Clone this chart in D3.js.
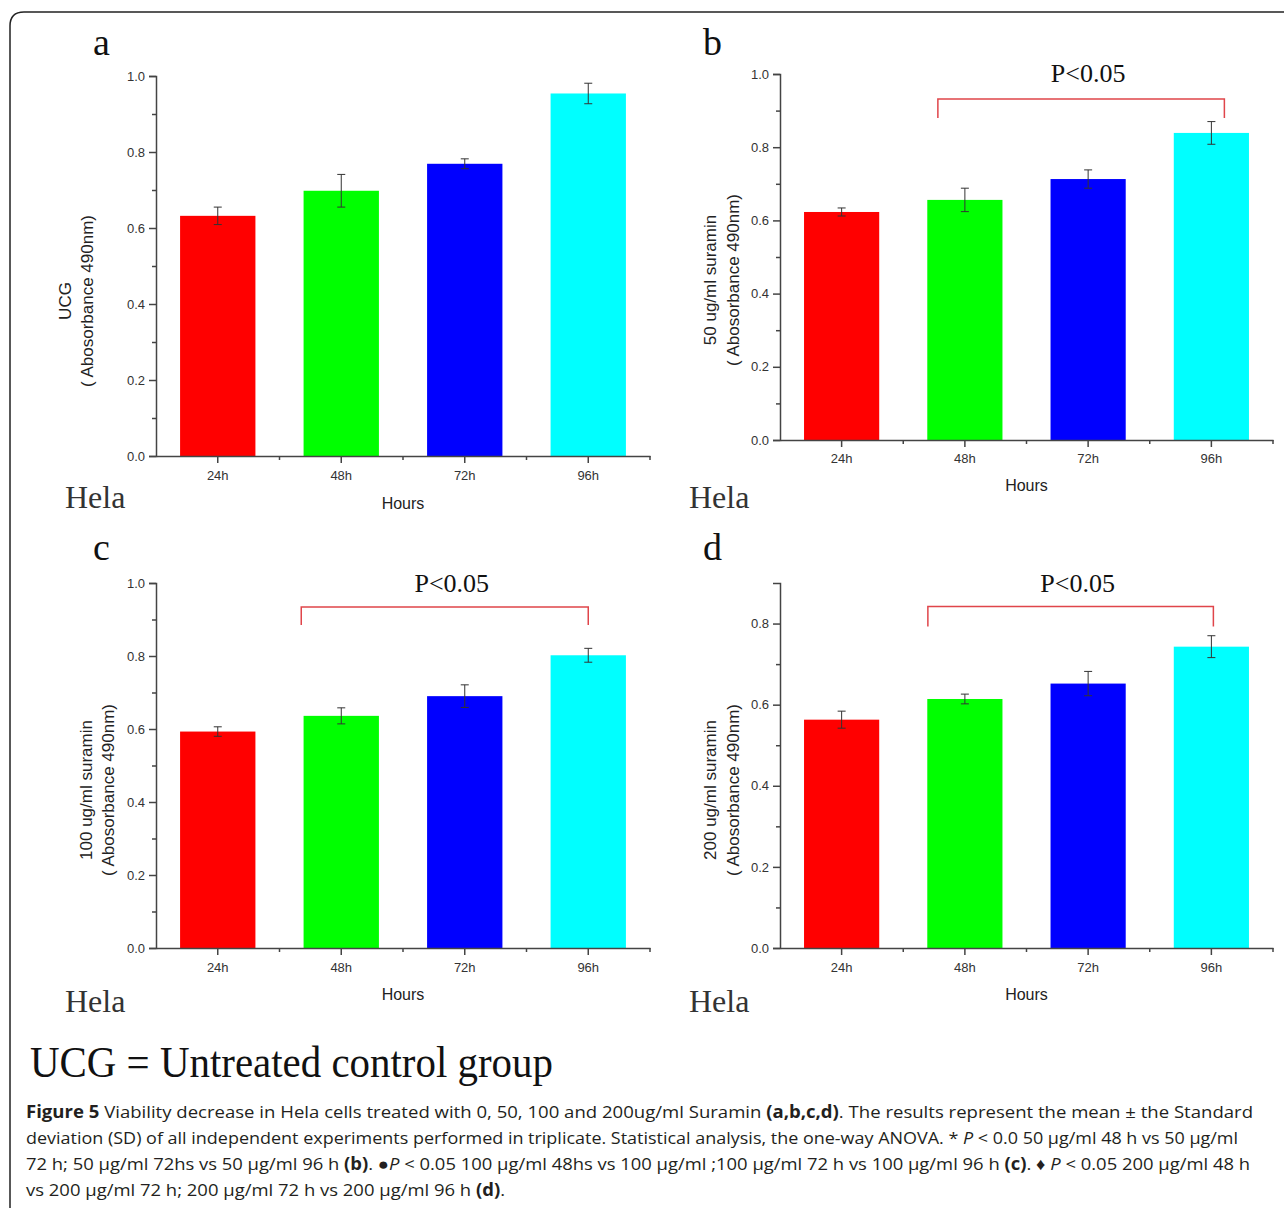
<!DOCTYPE html>
<html lang="en">
<head>
<meta charset="utf-8">
<title>Figure 5 - Hela viability</title>
<script src="https://d3js.org/d3.v7.min.js"></script>
<style>
  body { margin: 0; background: #fff; }
  svg text { font-family: "Liberation Sans", Arial, sans-serif; }
  .serif { font-family: "Liberation Serif", "Times New Roman", serif !important; }
</style>
</head>
<body>
<script>
// categories and colours
var hours = ["24h", "48h", "72h", "96h"];
var barColors = ["#ff0000", "#00ff00", "#0000ff", "#00ffff"];

// values (mean absorbance, SD)
var ucgMeans = [0.632, 0.698, 0.769, 0.954];
var ucgSD = [0.023, 0.043, 0.013, 0.027];
var sur50Means = [0.623, 0.656, 0.713, 0.839];
var sur50SD = [0.011, 0.032, 0.025, 0.031];
var sur100Means = [0.593, 0.636, 0.690, 0.802];
var sur100SD = [0.013, 0.022, 0.031, 0.019];
var sur200Means = [0.563, 0.614, 0.652, 0.743];
var sur200SD = [0.021, 0.012, 0.030, 0.027];

var yTicksMajor = [0, 0.2, 0.4, 0.6, 0.8, 1.0];
var yTicksMinor = [0.1, 0.3, 0.5, 0.7, 0.9];

var w = 1284, h = 1208;

var svg = d3.select("body").append("svg")
    .attr("width", w)
    .attr("height", h);

svg.append("rect").attr("width", w).attr("height", h).attr("fill", "#fff");

// outer frame (right and bottom sides run off the picture)
svg.append("path")
    .attr("d", "M10," + (h + 5) + " L10,26 Q10,12 24,12 L" + (w + 5) + ",12")
    .attr("fill", "none")
    .attr("stroke", "#222")
    .attr("stroke-width", 1.5);

var panels = [
  { letter: "a", ax: 156, xEnd: 650, yBase: 456, yTop: 76, yMax: 1.0,
    label: "UCG", means: ucgMeans, sd: ucgSD, letterX: 93,
    labX: [71, 93], labY: 301, tickY: 480, hoursY: 509, helaY: 508, letterY: 55 },
  { letter: "b", ax: 780, xEnd: 1273, yBase: 440, yTop: 74, yMax: 1.0,
    label: "50 ug/ml suramin", means: sur50Means, sd: sur50SD, letterX: 703,
    labX: [716, 739], labY: 280, tickY: 463, hoursY: 491, helaY: 508, letterY: 55,
    bracket: { top: 0.932, leg: 0.88, dl: -27, dr: 13, text: 0.977 } },
  { letter: "c", ax: 156, xEnd: 650, yBase: 948, yTop: 583, yMax: 1.0,
    label: "100 ug/ml suramin", means: sur100Means, sd: sur100SD, letterX: 93,
    labX: [92, 114], labY: 790, tickY: 972, hoursY: 1000, helaY: 1012, letterY: 560,
    bracket: { top: 0.934, leg: 0.885, dl: -40, dr: 0, text: 0.975 } },
  { letter: "d", ax: 780, xEnd: 1273, yBase: 948, yTop: 583, yMax: 0.9,
    label: "200 ug/ml suramin", means: sur200Means, sd: sur200SD, letterX: 703,
    labX: [716, 739], labY: 790, tickY: 972, hoursY: 1000, helaY: 1012, letterY: 560,
    bracket: { top: 0.842, leg: 0.793, dl: -37, dr: 2, text: 0.879 } }
];

panels.forEach(function(p) {
  var g = svg.append("g");

  var x = d3.scaleBand()
      .domain(hours)
      .range([p.ax, p.xEnd])
      .paddingInner(0.39)
      .paddingOuter(0.195);

  var y = d3.scaleLinear()
      .domain([0, p.yMax])
      .range([p.yBase, p.yTop]);

  // bars
  g.selectAll("rect.bar")
    .data(p.means)
    .enter().append("rect")
      .attr("class", "bar")
      .attr("x", function(d, i) { return x(hours[i]); })
      .attr("width", x.bandwidth())
      .attr("y", function(d) { return y(d); })
      .attr("height", function(d) { return y(0) - y(d); })
      .attr("fill", function(d, i) { return barColors[i]; });

  // error bars
  var eb = g.selectAll("g.err")
    .data(p.means)
    .enter().append("g")
      .attr("class", "err")
      .attr("stroke", "#333")
      .attr("stroke-width", 1);
  eb.append("line")
      .attr("x1", function(d, i) { return x(hours[i]) + x.bandwidth() / 2; })
      .attr("x2", function(d, i) { return x(hours[i]) + x.bandwidth() / 2; })
      .attr("y1", function(d, i) { return y(d + p.sd[i]); })
      .attr("y2", function(d, i) { return y(d - p.sd[i]); });
  [1, -1].forEach(function(s) {
    eb.append("line")
      .attr("x1", function(d, i) { return x(hours[i]) + x.bandwidth() / 2 - 4; })
      .attr("x2", function(d, i) { return x(hours[i]) + x.bandwidth() / 2 + 4; })
      .attr("y1", function(d, i) { return y(d + s * p.sd[i]); })
      .attr("y2", function(d, i) { return y(d + s * p.sd[i]); });
  });

  // y axis
  var yMajor = yTicksMajor.filter(function(t) { return t <= p.yMax + 1e-9; });
  var yMinor = yTicksMinor.filter(function(t) { return t < p.yMax - 1e-9; });
  var yAxis = g.append("g")
      .attr("transform", "translate(" + p.ax + ",0)")
      .call(d3.axisLeft(y).tickValues(yMajor).tickSize(7).tickPadding(4)
            .tickFormat(d3.format(".1f")));
  yAxis.select(".domain").attr("stroke", "#444").attr("stroke-width", 1.5);
  yAxis.selectAll(".tick line").attr("stroke", "#444").attr("stroke-width", 1.5);
  yAxis.selectAll(".tick text").attr("font-size", 13).attr("fill", "#333");
  g.append("g")
      .attr("transform", "translate(" + p.ax + ",0)")
      .call(d3.axisLeft(y).tickValues(yMinor).tickSize(4).tickFormat(""))
      .call(function(s) { s.select(".domain").remove(); })
      .selectAll(".tick line").attr("stroke", "#444").attr("stroke-width", 1.5);

  // x axis
  var xAxis = g.append("g")
      .attr("transform", "translate(0," + p.yBase + ")")
      .call(d3.axisBottom(x).tickSize(7).tickPadding(4).tickSizeOuter(0));
  xAxis.select(".domain").attr("stroke", "#444").attr("stroke-width", 1.5);
  xAxis.selectAll(".tick line").attr("stroke", "#444").attr("stroke-width", 1.5);
  xAxis.selectAll(".tick text").remove();
  // minor ticks at category boundaries
  g.selectAll("line.xminor")
    .data(hours)
    .enter().append("line")
      .attr("class", "xminor")
      .attr("x1", function(d) { return x(d) + x.bandwidth() + x.step() * x.paddingInner() / 2; })
      .attr("x2", function(d) { return x(d) + x.bandwidth() + x.step() * x.paddingInner() / 2; })
      .attr("y1", p.yBase)
      .attr("y2", p.yBase + 4)
      .attr("stroke", "#444")
      .attr("stroke-width", 1.5);
  g.selectAll("text.xlab")
    .data(hours)
    .enter().append("text")
      .attr("class", "xlab")
      .attr("x", function(d) { return x(d) + x.bandwidth() / 2; })
      .attr("y", p.tickY)
      .attr("text-anchor", "middle")
      .attr("font-size", 13)
      .attr("fill", "#333")
      .text(function(d) { return d; });

  // axis titles
  g.append("text")
      .attr("x", (p.ax + p.xEnd) / 2)
      .attr("y", p.hoursY)
      .attr("text-anchor", "middle")
      .attr("font-size", 16)
      .attr("fill", "#222")
      .text("Hours");

  [p.label, "( Abosorbance 490nm)"].forEach(function(t, i) {
    g.append("text")
      .attr("transform", "translate(" + p.labX[i] + "," + p.labY + ") rotate(-90)")
      .attr("text-anchor", "middle")
      .attr("font-size", 17)
      .attr("fill", "#222")
      .text(t);
  });

  // panel letter and cell line name
  g.append("text")
      .attr("class", "serif")
      .attr("x", p.letterX)
      .attr("y", p.letterY)
      .attr("font-size", 38)
      .attr("fill", "#111")
      .text(p.letter);
  g.append("text")
      .attr("class", "serif")
      .attr("x", p.ax - 91)
      .attr("y", p.helaY)
      .attr("font-size", 32)
      .attr("fill", "#333")
      .text("Hela");

  // significance bracket
  if (p.bracket) {
    var b = p.bracket;
    var xl = x("48h") + x.bandwidth() / 2 + b.dl;
    var xr = x("96h") + x.bandwidth() / 2 + b.dr;
    g.append("path")
      .attr("d", "M" + xl + "," + y(b.leg) + " L" + xl + "," + y(b.top) +
                 " L" + xr + "," + y(b.top) + " L" + xr + "," + y(b.leg))
      .attr("fill", "none")
      .attr("stroke", "#e0454a")
      .attr("stroke-width", 1.5);
    g.append("text")
      .attr("class", "serif")
      .attr("x", (xl + xr) / 2 + 7)
      .attr("y", y(b.text))
      .attr("text-anchor", "middle")
      .attr("font-size", 26)
      .attr("fill", "#111")
      .text("P<0.05");
  }
});

// footnote
svg.append("text")
    .attr("class", "serif")
    .attr("x", 30)
    .attr("y", 1077)
    .attr("font-size", 44)
    .attr("fill", "#111")
    .attr("textLength", 523)
    .attr("lengthAdjust", "spacingAndGlyphs")
    .text("UCG = Untreated control group");

// caption
var capLines = [
  [["Figure 5", "b"], [" Viability decrease in Hela cells treated with 0, 50, 100 and 200ug/ml Suramin ", ""], ["(a,b,c,d)", "b"], [". The results represent the mean \u00b1 the Standard", ""]],
  [["deviation (SD) of all independent experiments performed in triplicate. Statistical analysis, the one-way ANOVA. * ", ""], ["P", "i"], [" < 0.0 50 \u03bcg/ml 48 h vs 50 \u03bcg/ml", ""]],
  [["72 h; 50 \u03bcg/ml 72hs vs 50 \u03bcg/ml 96 h ", ""], ["(b)", "b"], [". \u25cf", ""], ["P", "i"], [" < 0.05 100 \u03bcg/ml 48hs vs 100 \u03bcg/ml ;100 \u03bcg/ml 72 h vs 100 \u03bcg/ml 96 h ", ""], ["(c)", "b"], [". \u2666 ", ""], ["P", "i"], [" < 0.05 200 \u03bcg/ml 48 h", ""]],
  [["vs 200 \u03bcg/ml 72 h; 200 \u03bcg/ml 72 h vs 200 \u03bcg/ml 96 h ", ""], ["(d)", "b"], [".", ""]]
];
var capWidths = [1227, 1212, 1224, 479];
var capY = [1118, 1144, 1170, 1196];

capLines.forEach(function(line, i) {
  var t = svg.append("text")
      .attr("x", 26)
      .attr("y", capY[i])
      .attr("font-size", 17)
      .attr("fill", "#231f20")
      .attr("textLength", capWidths[i])
      .attr("lengthAdjust", "spacingAndGlyphs")
      .style("font-family", "'Open Sans', 'Noto Sans', sans-serif");
  line.forEach(function(seg) {
    var ts = t.append("tspan").text(seg[0]);
    if (seg[1] === "b") ts.attr("font-weight", "bold");
    if (seg[1] === "i") ts.attr("font-style", "italic");
  });
});
</script>
</body>
</html>
